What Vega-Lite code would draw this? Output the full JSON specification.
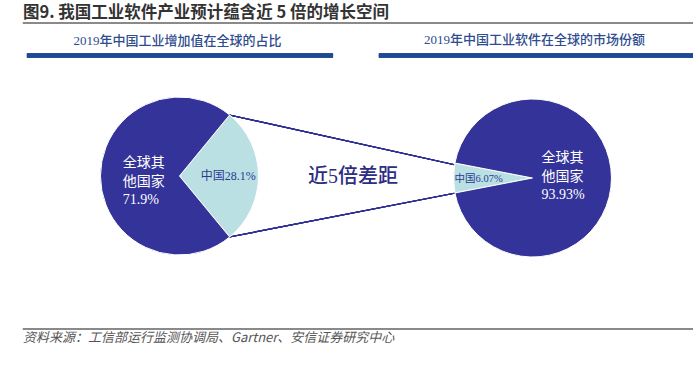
{
  "$schema": "https://vega.github.io/schema/vega-lite/v6.json",
  "width": 695,
  "height": 365,
  "autosize": {"type": "fit", "contains": "padding"},
  "padding": 0,
  "background": "white",
  "config": {
    "view": {"stroke": null},
    "axis": {"disable": true},
    "legend": {"disable": true},
    "text": {"font": "Noto Sans CJK SC"}
  },
  "datasets": {
    "pies": [
      {"pie": "工业增加值", "seg": "中国", "value": 28.1, "label": "中国28.1%"},
      {"pie": "工业增加值", "seg": "全球其他国家", "value": 71.9, "label": "全球其\n他国家\n71.9%"},
      {"pie": "工业软件", "seg": "中国", "value": 6.07, "label": "中国6.07%"},
      {"pie": "工业软件", "seg": "全球其他国家", "value": 93.93, "label": "全球其\n他国家\n93.93%"}
    ],
    "texts": [
      {"k": "title", "t": "图9. 我国工业软件产业预计蕴含近 5 倍的增长空间"},
      {"k": "h1", "t": "2019年中国工业增加值在全球的占比"},
      {"k": "h2", "t": "2019年中国工业软件在全球的市场份额"},
      {"k": "gap", "t": "近5倍差距"},
      {"k": "src", "t": "资料来源：工信部运行监测协调局、Gartner、安信证券研究中心"}
    ]
  },
  "data": {"name": "texts"},
  "resolve": {"scale": {"theta": "independent"}},
  "layer": [
    {
      "mark": {"type": "rule", "color": "#8a8a8a", "strokeWidth": 1.5},
      "encoding": {
        "x": {"datum": 23, "type": "quantitative", "scale": {"domain": [0, 695], "nice": false, "zero": false}},
        "x2": {"datum": 695},
        "y": {"datum": 23, "type": "quantitative", "scale": {"domain": [0, 365], "nice": false, "zero": false, "reverse": true}}
      }
    },
    {
      "mark": {"type": "rule", "color": "#8a8a8a", "strokeWidth": 1.5},
      "encoding": {
        "x": {"datum": 23, "type": "quantitative"},
        "x2": {"datum": 695},
        "y": {"datum": 329, "type": "quantitative"}
      }
    },
    {
      "mark": {"type": "rule", "color": "#1d4a94", "strokeWidth": 4},
      "encoding": {
        "x": {"datum": 27, "type": "quantitative"},
        "x2": {"datum": 334},
        "y": {"datum": 55.5, "type": "quantitative"}
      }
    },
    {
      "mark": {"type": "rule", "color": "#1d4a94", "strokeWidth": 4},
      "encoding": {
        "x": {"datum": 380, "type": "quantitative"},
        "x2": {"datum": 695},
        "y": {"datum": 55.5, "type": "quantitative"}
      }
    },
    {
      "mark": {"type": "rule", "color": "#2e3192", "strokeWidth": 1.2},
      "encoding": {
        "x": {"datum": 230, "type": "quantitative"},
        "y": {"datum": 115, "type": "quantitative"},
        "x2": {"datum": 457},
        "y2": {"datum": 165}
      }
    },
    {
      "mark": {"type": "rule", "color": "#2e3192", "strokeWidth": 1.2},
      "encoding": {
        "x": {"datum": 230, "type": "quantitative"},
        "y": {"datum": 237, "type": "quantitative"},
        "x2": {"datum": 457},
        "y2": {"datum": 193}
      }
    },
    {
      "data": {"name": "pies"},
      "transform": [{"filter": "datum.pie === '工业增加值'"}],
      "mark": {"type": "arc", "outerRadius": 79, "stroke": "white", "strokeWidth": 1},
      "encoding": {
        "x": {"datum": 180, "type": "quantitative"},
        "y": {"datum": 176, "type": "quantitative"},
        "theta": {"field": "value", "type": "quantitative", "stack": true, "scale": {"range": [0.6877, 6.9709]}},
        "order": {"field": "seg", "sort": "ascending"},
        "color": {"field": "seg", "type": "nominal", "scale": {"domain": ["中国", "全球其他国家"], "range": ["#bae0e4", "#333399"]}}
      }
    },
    {
      "data": {"name": "pies"},
      "transform": [{"filter": "datum.pie === '工业软件'"}],
      "mark": {"type": "arc", "outerRadius": 79, "stroke": "white", "strokeWidth": 1},
      "encoding": {
        "x": {"datum": 534, "type": "quantitative"},
        "y": {"datum": 178, "type": "quantitative"},
        "theta": {"field": "value", "type": "quantitative", "stack": true, "scale": {"range": [4.5216, 10.8048]}},
        "order": {"field": "seg", "sort": "ascending"},
        "color": {"field": "seg", "type": "nominal"}
      }
    },
    {
      "data": {"name": "pies"},
      "transform": [{"filter": "datum.pie === '工业增加值' && datum.seg === '中国'"}],
      "mark": {"type": "text", "font": "Liberation Serif, Noto Sans CJK SC", "fontSize": 12, "color": "#2b3a8f", "align": "center", "baseline": "middle"},
      "encoding": {
        "x": {"datum": 229, "type": "quantitative"},
        "y": {"datum": 176, "type": "quantitative"},
        "text": {"field": "label"}
      }
    },
    {
      "data": {"name": "pies"},
      "transform": [{"filter": "datum.pie === '工业软件' && datum.seg === '中国'"}],
      "mark": {"type": "text", "font": "Liberation Serif, Noto Sans CJK SC", "fontSize": 10.5, "color": "#2b3a8f", "align": "center", "baseline": "middle"},
      "encoding": {
        "x": {"datum": 480, "type": "quantitative"},
        "y": {"datum": 179, "type": "quantitative"},
        "text": {"field": "label"}
      }
    },
    {
      "data": {"name": "pies"},
      "transform": [{"filter": "datum.pie === '工业增加值' && datum.seg !== '中国'"}],
      "mark": {"type": "text", "font": "Liberation Serif, Noto Sans CJK SC", "fontSize": 14, "letterSpacing": 1, "color": "white", "align": "left", "baseline": "middle", "lineBreak": "\n", "lineHeight": 18.5},
      "encoding": {
        "x": {"datum": 123, "type": "quantitative"},
        "y": {"datum": 163, "type": "quantitative"},
        "text": {"field": "label"}
      }
    },
    {
      "data": {"name": "pies"},
      "transform": [{"filter": "datum.pie === '工业软件' && datum.seg !== '中国'"}],
      "mark": {"type": "text", "font": "Liberation Serif, Noto Sans CJK SC", "fontSize": 14, "letterSpacing": 1, "color": "white", "align": "left", "baseline": "middle", "lineBreak": "\n", "lineHeight": 18.5},
      "encoding": {
        "x": {"datum": 543, "type": "quantitative"},
        "y": {"datum": 158, "type": "quantitative"},
        "text": {"field": "label"}
      }
    },
    {
      "transform": [{"filter": "datum.k === 'title'"}],
      "mark": {"type": "text", "fontSize": 16.5, "fontWeight": "bold", "color": "#333333", "align": "left", "baseline": "middle"},
      "encoding": {
        "x": {"datum": 23, "type": "quantitative"},
        "y": {"datum": 13, "type": "quantitative"},
        "text": {"field": "t"}
      }
    },
    {
      "transform": [{"filter": "datum.k === 'h1'"}],
      "mark": {"type": "text", "font": "Liberation Serif, Noto Sans CJK SC", "fontSize": 13, "fontWeight": 500, "color": "#2e4c8e", "align": "center", "baseline": "middle"},
      "encoding": {
        "x": {"datum": 178, "type": "quantitative"},
        "y": {"datum": 41, "type": "quantitative"},
        "text": {"field": "t"}
      }
    },
    {
      "transform": [{"filter": "datum.k === 'h2'"}],
      "mark": {"type": "text", "font": "Liberation Serif, Noto Sans CJK SC", "fontSize": 13, "fontWeight": 500, "color": "#2e4c8e", "align": "center", "baseline": "middle"},
      "encoding": {
        "x": {"datum": 536, "type": "quantitative"},
        "y": {"datum": 40, "type": "quantitative"},
        "text": {"field": "t"}
      }
    },
    {
      "transform": [{"filter": "datum.k === 'gap'"}],
      "mark": {"type": "text", "font": "Liberation Serif, Noto Sans CJK SC", "fontSize": 20, "fontWeight": 500, "letterSpacing": 2, "color": "#2d2e83", "align": "center", "baseline": "middle"},
      "encoding": {
        "x": {"datum": 354, "type": "quantitative"},
        "y": {"datum": 177, "type": "quantitative"},
        "text": {"field": "t"}
      }
    },
    {
      "transform": [{"filter": "datum.k === 'src'"}],
      "mark": {"type": "text", "fontSize": 13, "fontStyle": "italic", "color": "#555555", "align": "left", "baseline": "middle"},
      "encoding": {
        "x": {"datum": 23, "type": "quantitative"},
        "y": {"datum": 338, "type": "quantitative"},
        "text": {"field": "t"}
      }
    }
  ]
}
